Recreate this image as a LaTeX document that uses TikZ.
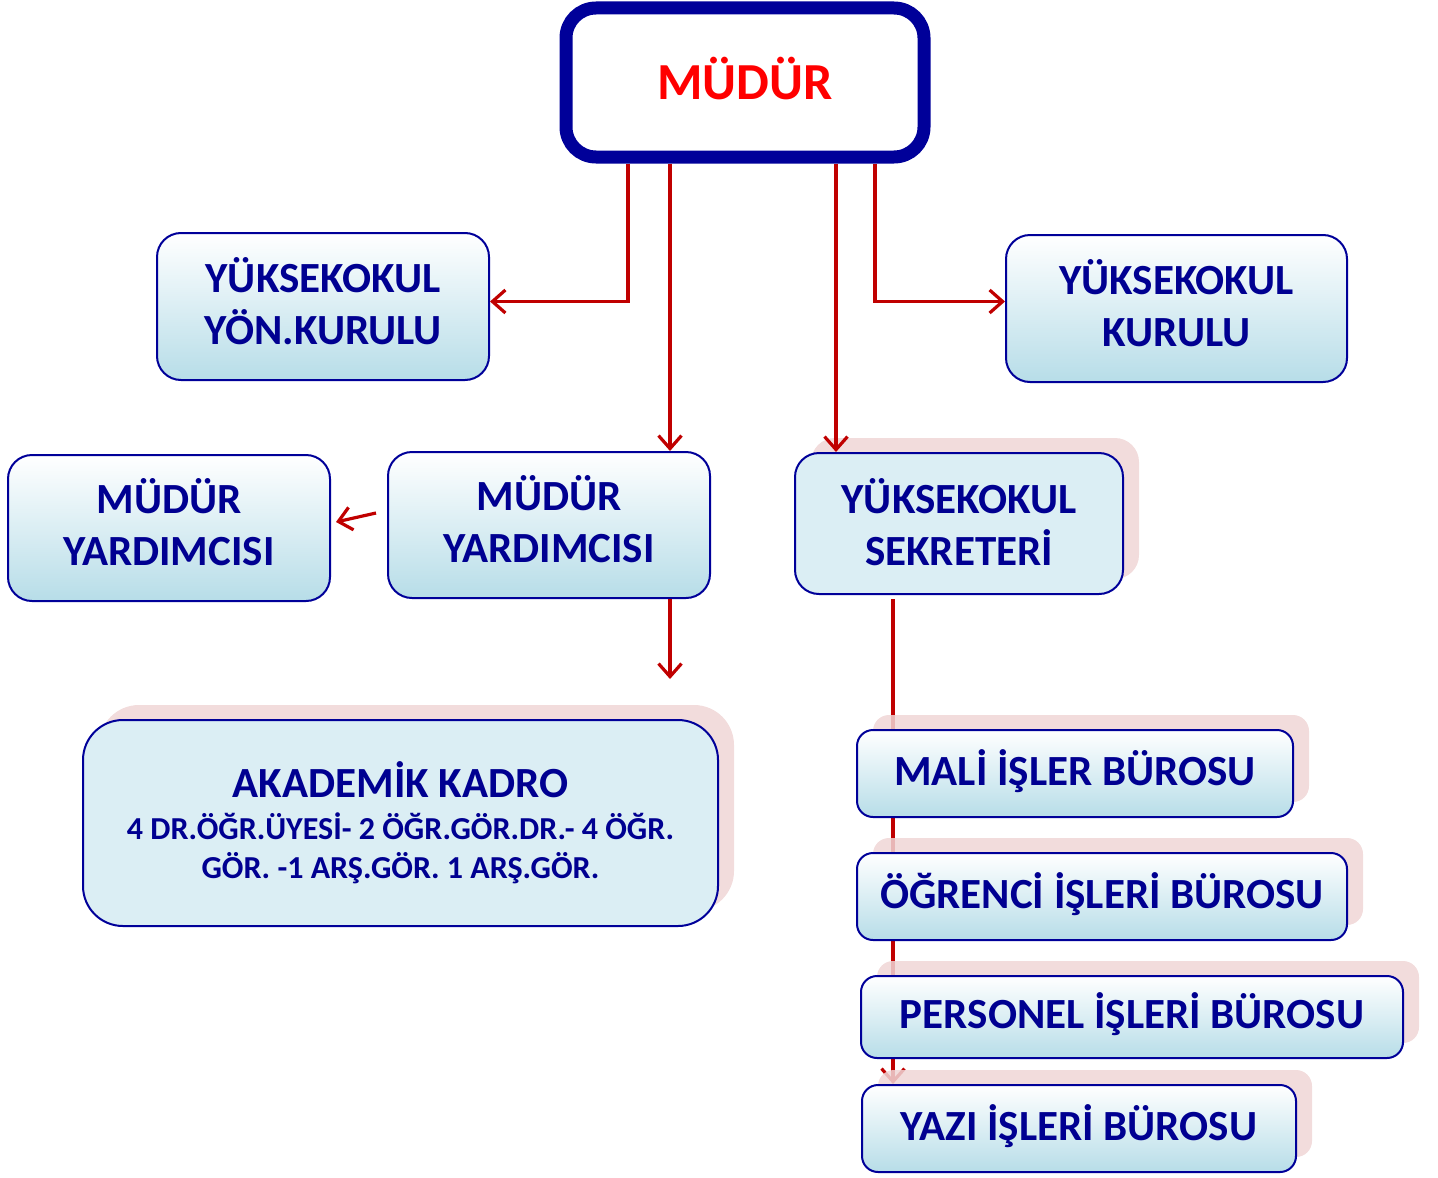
\documentclass[tikz,border=0pt]{standalone}
\usepackage{fontspec}
\setmainfont{Carlito}
\usetikzlibrary{arrows.meta, positioning, calc, shadows, backgrounds}

\definecolor{boxblue}{RGB}{0,0,153}
\definecolor{txtblue}{RGB}{0,0,145}
\definecolor{linered}{RGB}{192,0,0}
\definecolor{paleblue}{RGB}{219,238,244}
\definecolor{gradblue}{RGB}{183,221,232}
\definecolor{shadowpink}{RGB}{240,214,214}

\begin{document}
\begin{tikzpicture}[x=0.5pt, y=-0.5pt,
  unit/.style   = {draw=boxblue, line width=1pt, rounded corners=12pt, align=center, text=txtblue,
                   font=\fontsize{21.5}{26}\selectfont\bfseries, inner sep=0pt},
  lift/.style   = {execute at end node={\rule[-#1]{0pt}{#1}}},
  grad/.style   = {unit, top color=white, bottom color=gradblue, lift=6pt},
  flat/.style   = {unit, fill=paleblue},
  pinkshadow/.style = {general shadow={shadow xshift=8pt, shadow yshift=7.5pt, fill=shadowpink, draw=none, opacity=0.85}},
  office/.style = {grad, pinkshadow, rounded corners=8pt, minimum height=43.5pt, lift=3pt},
  arrow/.style  = {linered, line width=1.6pt, -{Straight Barb[length=6.5pt, width=11.5pt]}}
]
  \useasboundingbox (0,0) rectangle (1438,1177);

  % Director box
  \node[draw=boxblue, line width=6.5pt, rounded corners=15pt, fill=white, minimum width=179pt, lift=4pt,
        minimum height=74.5pt, text=red, font=\fontsize{26}{30}\selectfont\bfseries] (mudur) at (745,82.5) {MÜDÜR};

  % Boards
  \node[grad, minimum width=166pt, minimum height=73.5pt] (yon) at (323,306.5) {YÜKSEKOKUL\\YÖN.KURULU};
  \node[grad, minimum width=170.5pt, minimum height=73.5pt] (kurul) at (1176.5,308.5) {YÜKSEKOKUL\\KURULU};

  % Deputies and secretary
  \node[grad, minimum width=161pt, minimum height=73pt, lift=5pt] (yrd1) at (169,528) {MÜDÜR\\YARDIMCISI};
  \node[grad, minimum width=161pt, minimum height=73pt, lift=5pt] (yrd2) at (549,525) {MÜDÜR\\YARDIMCISI};
  \node[flat, pinkshadow, minimum width=164pt, minimum height=70.5pt, lift=2pt] (sekr) at (959,523.5) {YÜKSEKOKUL\\SEKRETERİ};

  % Academic staff
  \node[flat, pinkshadow, rounded corners=20pt, minimum width=317.5pt, minimum height=103pt,
        font=\fontsize{16}{19.5}\selectfont\bfseries] (akad) at (400.5,823)
    {{\fontsize{21.5}{26}\selectfont AKADEMİK KADRO}\\[1.5pt]4 DR.ÖĞR.ÜYESİ- 2 ÖĞR.GÖR.DR.- 4 ÖĞR.\\GÖR. -1 ARŞ.GÖR. 1 ARŞ.GÖR.};

  % Offices
  \node[office, minimum width=218pt] (mali) at (1075,773.5) {MALİ İŞLER BÜROSU};
  \node[office, minimum width=245pt] (ogr) at (1102,896.5) {ÖĞRENCİ İŞLERİ BÜROSU};
  \node[office, minimum width=271pt, minimum height=41pt] (pers) at (1132,1017) {PERSONEL İŞLERİ BÜROSU};
  \node[office, minimum width=217pt] (yazi) at (1079,1128.5) {YAZI İŞLERİ BÜROSU};

  % Taps on the director box
  \coordinate (tapA) at ($(mudur.south)+(-117,0)$);
  \coordinate (tapB) at ($(mudur.south)+(-75,0)$);
  \coordinate (tapC) at ($(mudur.south)+(91,0)$);
  \coordinate (tapD) at ($(mudur.south)+(130,0)$);
  \coordinate (tapY) at ($(yrd2.south)+(121,0)$);
  \coordinate (trunk) at ($(sekr.south)+(-66,4)$);

  \draw[arrow] (tapA) |- ($(yon.east)+(0,-5)$);
  \draw[arrow] (tapB) -- (tapB |- yrd2.north);
  \draw[arrow] (tapC) -- (tapC |- sekr.north);
  \draw[arrow] (tapD) |- ($(kurul.west)+(0,-7)$);
  \draw[arrow] ($(yrd2.west)+(-11,-12)$) -- ($(yrd1.east)+(5,-6)$);
  \draw[arrow] (tapY) -- ++(0,80);

  % Secretary trunk behind the offices
  \begin{scope}[on background layer]
    \draw[arrow] (trunk) -- (trunk |- yazi.north);
  \end{scope}

\end{tikzpicture}
\end{document}
